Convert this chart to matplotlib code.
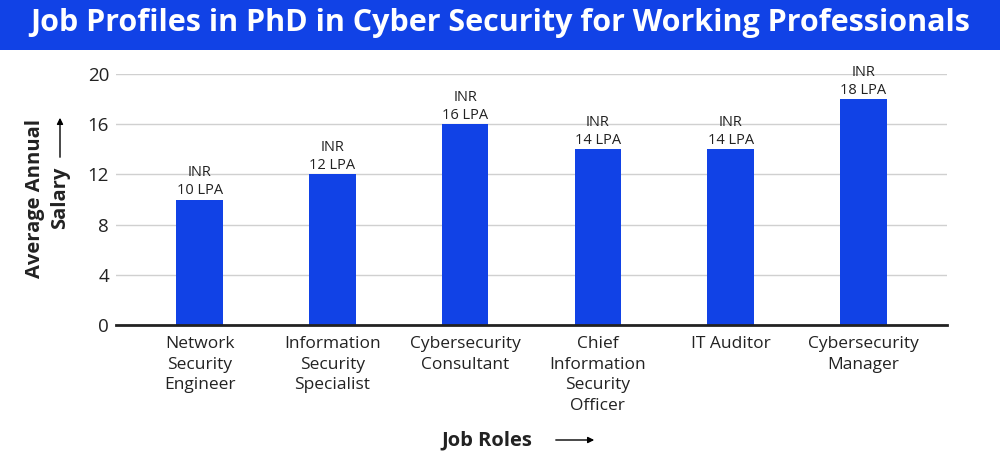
import matplotlib.pyplot as plt
from matplotlib.patches import Rectangle, FancyArrowPatch

roles = ["Network\nSecurity\nEngineer", "Information\nSecurity\nSpecialist", "Cybersecurity\nConsultant",
         "Chief\nInformation\nSecurity\nOfficer", "IT Auditor", "Cybersecurity\nManager"]
salary = [10, 12, 16, 14, 14, 18]
bar_labels = ["INR\n10 LPA", "INR\n12 LPA", "INR\n16 LPA", "INR\n14 LPA", "INR\n14 LPA", "INR\n18 LPA"]
yticks = [0, 4, 8, 12, 16, 20]

BLUE = "#1142E6"
TXT = "#222222"
plt.rcParams["font.family"] = ["Open Sans", "DejaVu Sans"]

fig = plt.figure(figsize=(10, 4.55), dpi=100, facecolor="white")

# title banner
fig.patches.append(Rectangle((0, 1 - 50 / 455), 1, 50 / 455, transform=fig.transFigure,
                             facecolor=BLUE, edgecolor="none", zorder=0))
fig.text(0.5, 1 - 23 / 455, "Job Profiles in PhD in Cyber Security for Working Professionals",
         ha="center", va="center", color="white", fontsize=22, fontweight="bold")

ax = fig.add_axes([0.116, 1 - 325 / 455, 0.831, 251 / 455])
x = range(len(roles))
ax.bar(x, salary, width=0.35, color=BLUE, zorder=3)
for i, (v, t) in enumerate(zip(salary, bar_labels)):
    ax.text(i, v + 0.1, t, ha="center", va="bottom", fontsize=10.5, color=TXT,
            linespacing=1.3, zorder=4)

ax.set_ylim(0, 20)
ax.set_xlim(-0.63, 5.63)
ax.set_yticks(yticks)
ax.set_xticks(list(x))
ax.set_xticklabels(roles, fontsize=12.5, color=TXT, linespacing=1.38)
ax.tick_params(axis="y", length=0, labelsize=13.5, colors=TXT, pad=5)
ax.tick_params(axis="x", length=0, pad=8)
ax.grid(axis="y", color="#d0d0d0", linewidth=1, zorder=0)
for s in ["top", "right", "left"]:
    ax.spines[s].set_visible(False)
ax.spines["bottom"].set_linewidth(2)
ax.spines["bottom"].set_color(TXT)
ax.spines["bottom"].set_zorder(5)

# axis titles with arrows
fig.text(0.035, 1 - 198 / 455, "Average Annual", rotation=90, ha="center", va="center",
         fontsize=14.5, fontweight="bold", color=TXT)
fig.text(0.060, 1 - 198 / 455, "Salary", rotation=90, ha="center", va="center",
         fontsize=14.5, fontweight="bold", color=TXT)
fig.patches.append(FancyArrowPatch(
    (0.060, 1 - 160 / 455), (0.060, 1 - 115 / 455), transform=fig.transFigure,
    arrowstyle="-|>", mutation_scale=9, color="black", linewidth=1))
fig.text(0.487, 1 - 440 / 455, "Job Roles", ha="center", va="center",
         fontsize=14.5, fontweight="bold", color=TXT)
fig.patches.append(FancyArrowPatch(
    (0.553, 1 - 440 / 455), (0.597, 1 - 440 / 455), transform=fig.transFigure,
    arrowstyle="-|>", mutation_scale=9, color="black", linewidth=1))

plt.savefig("out.png", dpi=100, facecolor="white")
